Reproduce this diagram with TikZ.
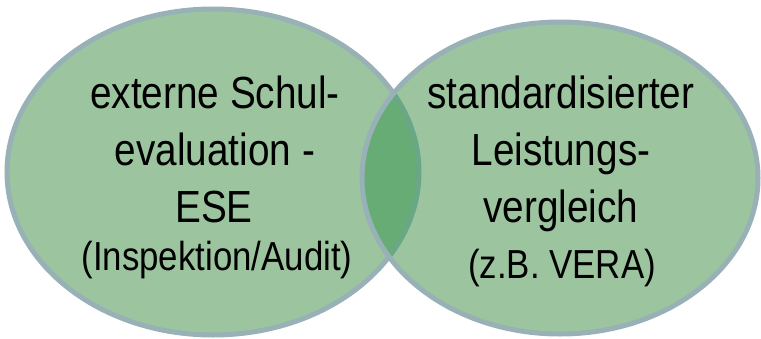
\documentclass[tikz,border=0pt]{standalone}
\usepackage{fontspec}
\newfontfamily\lblfont[FakeStretch=0.86]{Liberation Sans}
\definecolor{circfill}{HTML}{9CC59F}
\definecolor{circedge}{HTML}{98B1B6}
\definecolor{lensfill}{HTML}{67AC75}
\definecolor{lensedge}{HTML}{6AA787}
\tikzset{
  bigtxt/.style={anchor=base, inner sep=0pt, font=\lblfont\fontsize{45}{50}\selectfont},
  smalltxt/.style={anchor=base, inner sep=0pt, font=\lblfont\fontsize{40.5}{44}\selectfont},
  ring/.style={line width=5pt}
}
\begin{document}
\begin{tikzpicture}[x=1pt,y=-1pt]
  \useasboundingbox (0,0) rectangle (761,338);
  % the two overlapping circles
  \def\leftell{(213,172) ellipse [x radius=206, y radius=163]}
  \def\rightell{(560,178) ellipse [x radius=198, y radius=156]}
  \fill[circfill] \leftell;
  \draw[ring, circedge] \leftell;
  \fill[circfill] \rightell;
  % overlap region
  \begin{scope}
    \clip \leftell;
    \fill[lensfill] \rightell;
  \end{scope}
  \begin{scope}
    \clip \rightell;
    \draw[ring, lensedge] \leftell;
  \end{scope}
  \draw[ring, circedge] \rightell;
  % left circle text
  \node[bigtxt] (l1) at (215,108) {externe Schul-};
  \node[bigtxt] (l2) at (215,165) {evaluation -};
  \node[bigtxt] (l3) at (214,222) {ESE};
  \node[smalltxt] (l4) at (217,270) {(Inspektion/Audit)};
  % right circle text
  \node[bigtxt] (r1) at (561,108) {standardisierter};
  \node[bigtxt] (r2) at (561,165) {Leistungs-};
  \node[bigtxt] (r3) at (561,222) {vergleich};
  \node[smalltxt] (r4) at (562,278) {(z.B. VERA)};
\end{tikzpicture}
\end{document}
